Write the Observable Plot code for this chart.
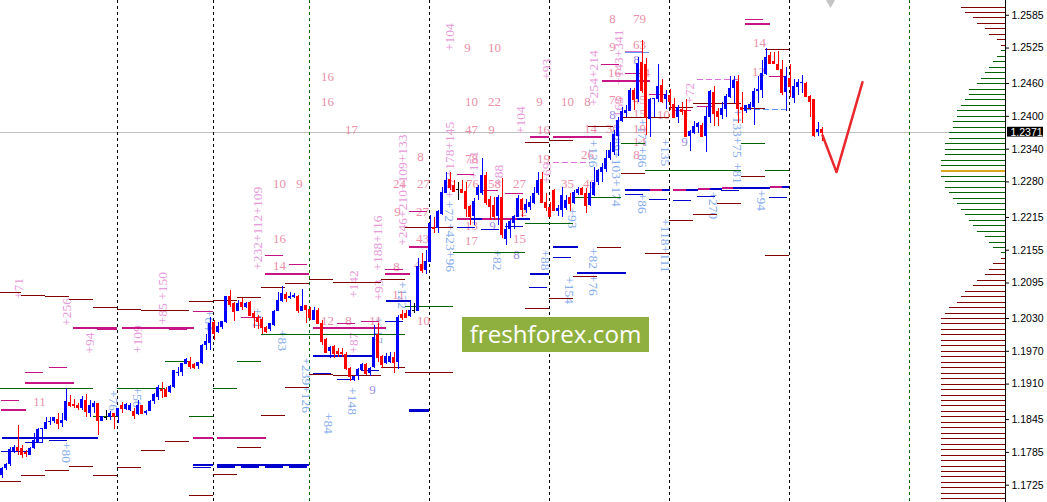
<!DOCTYPE html>
<html><head><meta charset="utf-8">
<style>
html,body{margin:0;padding:0;background:#fff;overflow:hidden}
#chart{position:relative;width:1047px;height:502px}
#brand{position:absolute;left:462px;top:317px;width:187px;height:35px;background:#8fb03f;color:#fff;font:24.2px/34px "Open Sans",sans-serif;text-align:center;z-index:2}
</style>
<script src="https://cdn.jsdelivr.net/npm/d3@7"></script>
<script src="https://cdn.jsdelivr.net/npm/@observablehq/plot@0.6"></script>
</head><body><div id="chart"><div id="brand">freshforex.com</div></div>
<script>
const opens=[1.1743,1.1756,1.1762,1.1785,1.1794,1.1793,1.1785,1.1780,1.1793,1.1804,1.1827,1.1827,1.1840,1.1842,1.1846,1.1837,1.1844,1.1877,1.1873,1.1871,1.1866,1.1880,1.1857,1.1868,1.1875,1.1842,1.1849,1.1848,1.1857,1.1851,1.1870,1.1864,1.1862,1.1860,1.1855,1.1871,1.1857,1.1860,1.1879,1.1886,1.1901,1.1901,1.1895,1.1904,1.1930,1.1932,1.1946,1.1952,1.1945,1.1943,1.1948,1.1981,1.1985,1.2023,1.2005,1.2014,1.2023,1.2071,1.2058,1.2043,1.2060,1.2051,1.2060,1.2040,1.2032,1.2029,1.2014,1.2009,1.2018,1.2043,1.2062,1.2074,1.2067,1.2069,1.2071,1.2043,1.2054,1.2047,1.2027,1.2045,1.2021,1.1992,1.1970,1.1979,1.1970,1.1968,1.1965,1.1939,1.1917,1.1923,1.1935,1.1945,1.1930,1.1941,1.2000,1.1961,1.1948,1.1950,1.1959,1.1950,1.2038,1.2040,1.2034,1.2045,1.2042,1.2128,1.2118,1.2133,1.2197,1.2195,1.2221,1.2259,1.2285,1.2274,1.2267,1.2267,1.2263,1.2235,1.2217,1.2256,1.2259,1.2292,1.2248,1.2237,1.2217,1.2252,1.2175,1.2193,1.2204,1.2215,1.2248,1.2228,1.2234,1.2241,1.2259,1.2285,1.2243,1.2234,1.2265,1.2226,1.2228,1.2232,1.2252,1.2241,1.2259,1.2268,1.2259,1.2237,1.2256,1.2279,1.2298,1.2303,1.2323,1.2334,1.2364,1.2391,1.2406,1.2409,1.2448,1.2430,1.2499,1.2494,1.2395,1.2430,1.2430,1.2457,1.2430,1.2439,1.2422,1.2397,1.2413,1.2411,1.2364,1.2369,1.2380,1.2384,1.2364,1.2398,1.2444,1.2408,1.2402,1.2413,1.2435,1.2451,1.2464,1.2417,1.2408,1.2415,1.2417,1.2446,1.2448,1.2477,1.2512,1.2501,1.2495,1.2486,1.2444,1.2470,1.2433,1.2453,1.2461,1.2461,1.2437,1.2430,1.2371,1.2376];
const highs=[1.1758,1.1765,1.1794,1.1798,1.1835,1.1798,1.1789,1.1794,1.1820,1.1829,1.1829,1.1848,1.1848,1.1848,1.1857,1.1857,1.1902,1.1890,1.1882,1.1875,1.1888,1.1891,1.1880,1.1879,1.1875,1.1851,1.1862,1.1859,1.1857,1.1866,1.1877,1.1875,1.1875,1.1866,1.1880,1.1871,1.1862,1.1880,1.1893,1.1908,1.1912,1.1904,1.1908,1.1935,1.1941,1.1948,1.1957,1.1959,1.1948,1.1950,1.1983,1.2000,1.2031,1.2027,1.2023,1.2025,1.2071,1.2082,1.2060,1.2063,1.2067,1.2060,1.2062,1.2042,1.2036,1.2031,1.2016,1.2021,1.2045,1.2078,1.2089,1.2078,1.2078,1.2076,1.2073,1.2084,1.2054,1.2051,1.2051,1.2049,1.2027,1.1994,1.1979,1.1981,1.1976,1.1976,1.1968,1.1941,1.1924,1.1939,1.1948,1.1948,1.1941,1.2018,1.2021,1.1963,1.1966,1.1968,1.1968,1.2036,1.2045,1.2045,1.2063,1.2058,1.2139,1.2149,1.2155,1.2219,1.2214,1.2228,1.2270,1.2298,1.2298,1.2283,1.2279,1.2283,1.2279,1.2237,1.2250,1.2274,1.2323,1.2298,1.2254,1.2252,1.2256,1.2287,1.2203,1.2212,1.2219,1.2256,1.2250,1.2248,1.2254,1.2270,1.2298,1.2298,1.2259,1.2243,1.2267,1.2237,1.2270,1.2256,1.2259,1.2265,1.2270,1.2270,1.2268,1.2279,1.2307,1.2303,1.2314,1.2338,1.2353,1.2375,1.2398,1.2417,1.2420,1.2451,1.2451,1.2508,1.2539,1.2506,1.2433,1.2433,1.2495,1.2468,1.2448,1.2450,1.2433,1.2420,1.2426,1.2430,1.2375,1.2391,1.2389,1.2387,1.2417,1.2448,1.2455,1.2415,1.2426,1.2440,1.2472,1.2472,1.2475,1.2444,1.2420,1.2426,1.2451,1.2472,1.2503,1.2525,1.2517,1.2517,1.2519,1.2503,1.2490,1.2494,1.2468,1.2468,1.2475,1.2462,1.2439,1.2431,1.2389,1.2380];
const lows=[1.1738,1.1752,1.1760,1.1783,1.1780,1.1774,1.1776,1.1780,1.1791,1.1802,1.1802,1.1827,1.1835,1.1838,1.1827,1.1831,1.1842,1.1868,1.1866,1.1862,1.1862,1.1849,1.1849,1.1857,1.1816,1.1842,1.1844,1.1844,1.1827,1.1838,1.1857,1.1862,1.1859,1.1846,1.1853,1.1857,1.1853,1.1859,1.1873,1.1880,1.1884,1.1886,1.1893,1.1902,1.1923,1.1923,1.1945,1.1937,1.1937,1.1937,1.1946,1.1972,1.1972,1.1990,1.2003,1.2009,1.2021,1.2051,1.2025,1.2042,1.2045,1.2049,1.2034,1.2012,1.2009,1.2000,1.2003,1.2007,1.2016,1.2042,1.2060,1.2060,1.2065,1.2067,1.2040,1.2042,1.2020,1.2027,1.2027,1.2020,1.1981,1.1966,1.1957,1.1957,1.1959,1.1959,1.1935,1.1915,1.1915,1.1917,1.1934,1.1926,1.1923,1.1939,1.1950,1.1939,1.1946,1.1948,1.1930,1.1937,1.2027,1.2031,1.2032,1.2040,1.2042,1.2113,1.2111,1.2133,1.2186,1.2186,1.2219,1.2259,1.2265,1.2261,1.2246,1.2259,1.2215,1.2201,1.2201,1.2246,1.2256,1.2237,1.2210,1.2210,1.2201,1.2177,1.2164,1.2177,1.2192,1.2214,1.2214,1.2223,1.2228,1.2239,1.2256,1.2241,1.2225,1.2214,1.2225,1.2217,1.2214,1.2228,1.2225,1.2239,1.2256,1.2256,1.2223,1.2235,1.2254,1.2274,1.2279,1.2298,1.2320,1.2329,1.2327,1.2389,1.2397,1.2408,1.2411,1.2426,1.2442,1.2365,1.2362,1.2398,1.2426,1.2424,1.2413,1.2411,1.2397,1.2386,1.2402,1.2362,1.2336,1.2367,1.2369,1.2362,1.2334,1.2387,1.2382,1.2382,1.2395,1.2397,1.2433,1.2424,1.2386,1.2386,1.2406,1.2411,1.2384,1.2424,1.2433,1.2475,1.2497,1.2495,1.2484,1.2439,1.2409,1.2435,1.2424,1.2439,1.2442,1.2435,1.2398,1.2362,1.2364,1.2354];
const closes=[1.1756,1.1762,1.1791,1.1794,1.1789,1.1782,1.1783,1.1793,1.1807,1.1827,1.1829,1.1840,1.1842,1.1848,1.1837,1.1844,1.1879,1.1870,1.1870,1.1868,1.1882,1.1859,1.1870,1.1875,1.1844,1.1851,1.1849,1.1857,1.1851,1.1866,1.1866,1.1873,1.1871,1.1853,1.1871,1.1857,1.1860,1.1879,1.1891,1.1904,1.1899,1.1888,1.1906,1.1934,1.1932,1.1948,1.1955,1.1943,1.1941,1.1950,1.1981,1.1988,1.2021,1.2003,1.2016,1.2025,1.2071,1.2056,1.2043,1.2058,1.2052,1.2058,1.2036,1.2031,1.2025,1.2014,1.2007,1.2020,1.2043,1.2063,1.2076,1.2067,1.2071,1.2073,1.2045,1.2052,1.2047,1.2031,1.2045,1.2021,1.1988,1.1968,1.1977,1.1966,1.1966,1.1966,1.1939,1.1923,1.1923,1.1937,1.1946,1.1930,1.1939,1.1996,1.1959,1.1946,1.1961,1.1961,1.1950,1.2032,1.2032,1.2031,1.2045,1.2045,1.2126,1.2118,1.2135,1.2203,1.2195,1.2225,1.2261,1.2283,1.2270,1.2263,1.2267,1.2261,1.2232,1.2217,1.2245,1.2270,1.2292,1.2243,1.2235,1.2217,1.2252,1.2184,1.2193,1.2208,1.2217,1.2250,1.2230,1.2239,1.2243,1.2259,1.2283,1.2243,1.2234,1.2217,1.2228,1.2232,1.2256,1.2246,1.2241,1.2261,1.2267,1.2257,1.2237,1.2259,1.2279,1.2300,1.2307,1.2323,1.2338,1.2367,1.2393,1.2409,1.2411,1.2448,1.2431,1.2497,1.2448,1.2397,1.2431,1.2433,1.2455,1.2428,1.2440,1.2428,1.2397,1.2417,1.2409,1.2364,1.2373,1.2382,1.2386,1.2364,1.2400,1.2446,1.2406,1.2400,1.2415,1.2437,1.2451,1.2466,1.2415,1.2413,1.2420,1.2422,1.2446,1.2450,1.2479,1.2508,1.2497,1.2497,1.2486,1.2444,1.2472,1.2455,1.2455,1.2462,1.2462,1.2437,1.2428,1.2365,1.2376,1.2371];

const sessionBars=[29.25,53.25,77.25,107.25,137.25,167.25,197.25,227.25];
const sessionColors=["#000","#000","#006400","#000","#000","#000","#000","#006400"];
const darkRedLevels=[[0,5.25,1.2078],[5.25,11.25,1.2073],[11.25,17.25,1.2071],[17.25,23.25,1.2065],[23.25,29.25,1.2051],[29.25,35.25,1.2047],[35.25,47.25,1.2045],[47.25,53.25,1.2062],[53.25,59.25,1.2063],[59.25,65.25,1.2069],[65.25,71.25,1.2087],[71.25,77.25,1.2095],[77.25,83.25,1.2102],[83.25,95.25,1.2096],[95.25,101.25,1.2102],[101.25,113.25,1.2197],[0,5.25,1.1732],[5.25,11.25,1.1743],[11.25,17.25,1.1752],[17.25,23.25,1.1760],[23.25,29.25,1.1743],[29.25,35.25,1.1758],[35.25,41.25,1.1789],[41.25,47.25,1.1805],[47.25,53.25,1.1707],[53.25,59.25,1.1745],[59.25,65.25,1.1794],[65.25,71.25,1.1853],[71.25,77.25,1.1904],[77.25,83.25,1.1928],[83.25,95.25,1.1926],[95.25,101.25,1.1941],[101.25,113.25,1.1932],[131.25,137.25,1.2353],[137.25,143.25,1.2356],[131.25,137.25,1.2049],[137.25,143.25,1.2067],[143.25,149.25,1.2106],[149.25,155.25,1.2160],[147,153.25,1.2382],[155.25,167.25,1.2397],[167.25,173.25,1.2417],[173.25,185.25,1.2424],[185.25,191.25,1.2415],[191.25,197.25,1.2523],[155.25,161.25,1.2296],[161.25,167.25,1.2149],[167.25,173.25,1.2210],[173.25,179.25,1.2221],[179.25,185.25,1.2241],[185.25,191.25,1.2290],[191.25,197.25,1.2146]];
const greenLevels=[[0,23.25,1.1902],[23.25,29.25,1.1851],[29.25,41.25,1.1902],[41.25,47.25,1.1952],[47.25,53.25,1.1851],[53.25,59.25,1.1902],[59.25,65.25,1.1952],[65.25,101.25,1.2001],[101.25,113.25,1.2052],[113.25,131.25,1.2151],[131.25,143.25,1.2203],[143.25,155.25,1.2252],[155.25,161.25,1.2351],[161.25,185.25,1.2301],[185.25,191.25,1.2351],[191.25,197.25,1.2301]];
const thickBlueLevels=[[0.5,24.5,1.1811],[48.25,53.25,1.1762],[54.25,77.25,1.1762],[78.25,93.25,1.1961],[96.5,102.5,1.2062],[114.25,132.5,1.2212],[132.5,137.25,1.2111],[138.25,144.5,1.2160],[144.25,156.5,1.2113],[156.25,167.5,1.2265],[168.25,174.5,1.2265],[174.5,180.5,1.2267],[180.5,192.5,1.2268],[192.5,197.25,1.2270]];
const heavyBlueLevels=[[54.25,58.75,1.1760],[60.25,64.75,1.1760],[66.25,70.75,1.1760],[72.25,76.75,1.1760],[102.25,107.25,1.1862]];
const thinBlueLevels=[[0.25,7.5,1.1787],[6.25,10.75,1.1804],[12.25,16.75,1.1807],[48.25,52.75,1.1758],[78.25,82.75,1.1930],[84.25,88.75,1.1919],[90.25,94.75,1.1934],[96.25,100.75,1.2025],[114.25,118.75,1.2197],[120.25,124.75,1.2192],[126.25,130.75,1.2199],[132.25,136.75,1.2087],[138.25,142.75,1.2142],[156.25,160.75,1.2257],[162.25,166.75,1.2248],[168.25,172.75,1.2246],[174.25,178.75,1.2254],[180.25,184.75,1.2265],[192.25,196.75,1.2252]];
const thickMagentaLevels=[[0.25,6.5,1.1862],[6.25,18.5,1.1912],[18.25,29.25,1.2012],[30.5,48.5,1.2012],[48.25,53.25,1.1811],[54.25,66.5,1.1811],[66.25,77.25,1.2111],[78.25,96.5,1.2012],[96.25,102.5,1.2111],[102.25,107.25,1.2160],[114.25,117.5,1.2212],[120.5,129.25,1.2212],[132.5,137.25,1.2362],[138.25,150.5,1.2362],[150.5,162.5,1.2464],[186.25,192.5,1.2569],[162.5,165.5,1.2265],[168.25,171.5,1.2265],[174.5,177.5,1.2267],[180.5,183.25,1.2268],[192.5,195.5,1.2270]];
const heavyMagentaLevels=[[24.25,29.25,1.2012],[42.25,46.75,1.2012]];
const thinMagentaLevels=[[0.25,4.75,1.1880],[6.25,10.75,1.1932],[12.25,16.75,1.1941],[48.25,53.25,1.2042],[60.25,65.25,1.2032],[66.25,70.75,1.2146],[72.25,76.75,1.2129],[84.25,88.75,1.2020],[90.25,94.75,1.2025],[96.25,100.75,1.2120],[102.25,106.75,1.2226],[114.25,118.5,1.2294],[120.5,124.5,1.2265],[126.25,130.75,1.2259],[150.25,154.75,1.2495],[156.25,160.75,1.2479],[162.25,166.75,1.2440],[168.25,172.75,1.2411],[174.25,178.75,1.2418],[186.25,190.75,1.2578],[192.25,196.75,1.2472]];
const dashedVioletLevels=[[138.25,147.5,1.2316],[174.25,185.5,1.2468]];
const dashedBlueLevels=[[186.25,197.25,1.2413]];
const paleBlueLevels=[[156.25,162.25,1.2516]];
const paleVioletLevels=[[156.25,160.5,1.2519]];

const forecastBars=[205.5,209,215.5];
const forecastPrices=[1.23655,1.2298,1.24625];
const lastPrice=1.2371;

const profilePrices=d3.range(0,91).map(k=>+(1.26-k*0.001).toFixed(3));
const profileCounts=[11,10,8,7,5,4,2,1,1,2,3,4,5,6,7,9,9,10,11,12,12,13,13,14,14,15,15,15,16,16,16,16,15,15,14,13,12,11,10,9,8,7,5,4,3,1,1,3,4,5,7,8,10,11,12,14,15,16,16,16,16,16,16,16,16,16,16,16,16,16,16,16,16,16,16,16,16,16,16,16,16,16,16,16,16,16,16,16,16,16,16];
const profileGreenFrom=1.252, profileGreenTo=1.215, profileGold=1.23;

const priceTicks=[1.2585,1.2525,1.2460,1.2400,1.2340,1.2280,1.2215,1.2155,1.2095,1.2030,1.1970,1.1910,1.1845,1.1785,1.1725];

const salmonLabels=[["11",9.75,1.1877],["14",69.75,1.2126],["10",69.75,1.2276],["9",74.75,1.2276],["16",69.75,1.2175],["16",81.75,1.2473],["16",81.75,1.2426],["17",87.75,1.2375],["8",105,1.2325],["24",99.75,1.2276],["27",105.75,1.2276],["9",99.25,1.2225],["27",105.5,1.2225],["43",105.5,1.2175],["8",99,1.2124],["41",105,1.2128],["11",99.5,1.2074],["10",105.75,1.2025],["12",81.75,1.2025],["8",87,1.2025],["11",93.75,1.2025],["78",117.75,1.2323],["76",118,1.2276],["58",123.5,1.2276],["27",129.75,1.2276],["13",117.75,1.2199],["17",117.75,1.2173],["12",130,1.2225],["15",129.75,1.2175],["19",135.75,1.2323],["35",141.75,1.2276],["40",147.25,1.2276],["26",146.75,1.2329],["9",116.75,1.2526],["10",123.5,1.2526],["10",117.75,1.2426],["22",123.5,1.2426],["9",134.75,1.2426],["10",141.75,1.2426],["8",146.75,1.2426],["47",117.75,1.2375],["9",122.75,1.2375],["16",135.75,1.2375],["14",147.5,1.2378],["8",153,1.2578],["79",159.75,1.2578],["9",153,1.2528],["63",159.75,1.2530],["16",153.5,1.2479],["14",160.75,1.2479],["79",153.75,1.2430],["45",159.75,1.2430],["15",159.75,1.2404],["19",159.75,1.2378],["30",153,1.2378],["14",159.75,1.2353],["8",159,1.2329],["10",165.75,1.2402],["14",189.75,1.2534],["12",189.5,1.2481]];
const purpleLabels=[["9",123,1.2199],["8",129,1.2146],["9",93,1.1899],["8",153,1.2402],["8",159,1.2503],["9",171,1.2353]];
const pinkLabels=[["+71",4.5,1.2085],["+256",16.5,1.2042],["+94",22.25,1.1985],["+109",34.25,1.1992],["+85 +150",40.5,1.2067],["+232+112+109",64.25,1.2195],["+142",88.25,1.2093],["+93",94.5,1.2082],["+188+116",94.25,1.2168],["+87",88.25,1.1985],["+246+210+109+133",100.5,1.2265],["+47+178+145",112.25,1.2320],["+104",112.25,1.2545],["+93",136.5,1.2486],["+104",130,1.2393],["+254+214",148.25,1.2470],["+143+341",154.5,1.2508],["+72",172.25,1.2442],["+151",118.25,1.2311],["+88",124.5,1.2292],["+69",136.5,1.2296],["+165",154.5,1.2410]];
const blueLabels=[["+80",16.5,1.1785],["+76",28.25,1.1880],["+56",34.25,1.1886],["+64",52.25,1.2027],["+51",64.25,1.2031],["+83",70.5,1.1990],["+239+126",76.5,1.1908],["+84",82,1.1838],["+148",88,1.1879],["+122",100.5,1.2073],["+117",94.5,1.2009],["+72",112.25,1.2226],["+423+96",112.5,1.2160],["+82",124.25,1.2137],["+88",136.25,1.2137],["+154",142.25,1.2082],["+93",143,1.2214],["+126",148.25,1.2332],["+82",148.25,1.2140],["+76",148.25,1.2091],["+289+103+174",154,1.2311],["+177+86",160.5,1.2351],["+86",160.5,1.2241],["+135",166.25,1.2334],["+118+111",166.25,1.2164],["+270",178.25,1.2237],["+133+75",184.25,1.2369],["+81",184.25,1.2296],["+94",190.25,1.2246]];

const AXIS_BAR=251.25;
const BLUE="#0000ff",RED="#ff0000",DKRED="#800000",GREEN="#006400",MAG="#c71585",DKBLUE="#0000cd";

const candles=opens.map((o,i)=>({x:i,o,h:highs[i],l:lows[i],c:closes[i],col:closes[i]>o?BLUE:closes[i]<o?RED:"#000"}));
const profile=profilePrices.map((p,k)=>({p,n:profileCounts[k],col:p===profileGold?"#daa520":(p<=profileGreenFrom&&p>=profileGreenTo?GREEN:DKRED)}));
const forecast=forecastBars.map((b,i)=>({b,p:forecastPrices[i]}));

const levels=(rows,stroke,strokeWidth,extra={})=>Plot.ruleY(rows,{x1:d=>d[0],x2:d=>d[1],y:d=>d[2],stroke,strokeWidth,shapeRendering:"crispEdges",...extra});
const labels=(rows,fill,rotate=0,fontSize=13.5)=>Plot.text(rows,{text:d=>d[0],x:d=>d[1],y:d=>d[2],fill,rotate,fontFamily:"Liberation Serif",fontSize});

const chart=Plot.plot({
  width:1047,height:502,marginTop:0,marginLeft:0,marginBottom:0,marginRight:42,
  style:{background:"#fff",overflow:"visible"},
  x:{domain:[0,AXIS_BAR],axis:null},
  y:{domain:[1.16933,1.2612],axis:null},
  marks:[
    Plot.ruleY([lastPrice],{x1:0,x2:AXIS_BAR,stroke:"#c0c0c0",strokeWidth:1,shapeRendering:"crispEdges"}),
    Plot.ruleX(sessionBars,{stroke:(d,i)=>sessionColors[i],strokeDasharray:"3,3",strokeWidth:1,shapeRendering:"crispEdges"}),
    labels(pinkLabels,"#e79ada",-90),
    labels(blueLabels,"#86aceb",90),
    labels(salmonLabels,"#ea8fa8",0,13),
    labels(purpleLabels,"#9c8ce6",0,13),
    levels(darkRedLevels,DKRED,1),
    levels(greenLevels,GREEN,1),
    levels(thinBlueLevels,DKBLUE,1),
    levels(thinMagentaLevels,MAG,1),
    levels(thickBlueLevels,DKBLUE,2),
    levels(heavyBlueLevels,DKBLUE,3),
    levels(thickMagentaLevels,MAG,2),
    levels(heavyMagentaLevels,MAG,3),
    levels(dashedVioletLevels,"#da70d6",1,{strokeDasharray:"6,3"}),
    levels(dashedBlueLevels,"#6495ed",1,{strokeDasharray:"6,3"}),
    levels(paleBlueLevels,"#6495ed",1),
    levels(paleVioletLevels,"#da70d6",1),
    Plot.ruleX(candles,{x:d=>d.x+0.375,y1:"l",y2:"h",stroke:"col",strokeWidth:1,shapeRendering:"crispEdges"}),
    Plot.rect(candles,{x1:d=>d.x,x2:d=>d.x+0.75,y1:"o",y2:"c",fill:"col",shapeRendering:"crispEdges"}),
    Plot.ruleY(candles,{x1:d=>d.x,x2:d=>d.x+0.75,y:"c",stroke:"col",strokeWidth:1,shapeRendering:"crispEdges"}),
    Plot.line(forecast,{x:"b",y:"p",stroke:"#e8282d",strokeWidth:2.5}),
    Plot.dot([{x:207.5,y:1.2612}],{x:"x",y:"y",symbol:"diamond",r:4.5,fill:"#c4c4c4"}),
    Plot.ruleY(profile,{x1:d=>AXIS_BAR-d.n,x2:AXIS_BAR,y:"p",stroke:"col",strokeWidth:d=>d.col==="#daa520"?2:1,shapeRendering:"crispEdges"}),
    Plot.ruleX([AXIS_BAR],{stroke:"#000",strokeWidth:1,shapeRendering:"crispEdges"}),
    Plot.axisY({anchor:"right",ticks:priceTicks,tickSize:3,tickPadding:3,tickFormat:d3.format(".4f"),label:null,fontSize:10.5,fontFamily:"Liberation Sans",stroke:"#000",fill:"#000"}),
    Plot.rect([lastPrice],{x1:AXIS_BAR+0.5,x2:AXIS_BAR+9.5,y1:d=>d-0.0009,y2:d=>d+0.0009,fill:"#000"}),
    Plot.text([lastPrice],{x:AXIS_BAR+1.25,y:d=>d,text:d=>d3.format(".4f")(d),fill:"#fff",textAnchor:"start",fontFamily:"Liberation Sans",fontSize:10.5})
  ]
});
document.getElementById("chart").prepend(chart);
</script></body></html>
